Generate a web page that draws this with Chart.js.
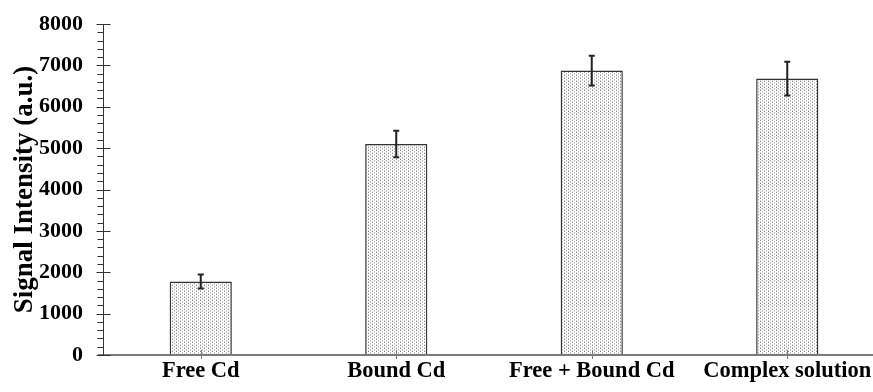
<!DOCTYPE html>
<html lang="en">
<head>
  <meta charset="UTF-8">
  <title>Signal Intensity</title>
  <script src="https://cdn.jsdelivr.net/npm/chart.js"></script>
  <style>
    html, body { margin: 0; padding: 0; background: #fff; overflow: hidden; }
    #wrap { width: 885px; height: 392px; }
  </style>
</head>
<body>
<div id="wrap">
  <canvas id="grafico" width="885" height="392"></canvas>
</div>

<script>
  // valores
  const categorias = ["Free Cd", "Bound Cd", "Free + Bound Cd", "Complex solution"];
  const valores = [1775, 5100, 6875, 6680];
  const erros = [170, 320, 360, 410];
  const yTicks = [0, 1000, 2000, 3000, 4000, 5000, 6000, 7000, 8000];

  const fonte = "'Liberation Serif', 'Times New Roman', serif";

  // textura pontilhada das barras
  const tile = document.createElement("canvas");
  tile.width = 4;
  tile.height = 3;
  const tctx = tile.getContext("2d");
  tctx.fillStyle = "#ffffff";
  tctx.fillRect(0, 0, 4, 3);
  tctx.fillStyle = "#8a8a8a";
  tctx.fillRect(0, 0, 1, 1);
  tctx.fillStyle = "#b4b4b4";
  tctx.fillRect(2, 1, 1, 1);
  tctx.fillStyle = "#d4d4d4";
  tctx.fillRect(0, 2, 1, 1);
  tctx.fillRect(2, 2, 1, 1);

  const canvas = document.getElementById("grafico");
  const ctx = canvas.getContext("2d");
  const textura = ctx.createPattern(tile, "repeat");

  const eixosPlugin = {
    id: "eixos",
    afterDatasetsDraw(chart) {
      const c = chart.ctx;
      const y = chart.scales.y;
      const area = chart.chartArea;
      const meta = chart.getDatasetMeta(0);
      c.save();

      // barras de erro
      c.strokeStyle = "#222";
      c.lineWidth = 2;
      meta.data.forEach((bar, i) => {
        const yTop = y.getPixelForValue(valores[i] + erros[i]);
        const yBot = y.getPixelForValue(valores[i] - erros[i]);
        c.beginPath();
        c.moveTo(bar.x, yTop);
        c.lineTo(bar.x, yBot);
        c.moveTo(bar.x - 3, yTop);
        c.lineTo(bar.x + 3, yTop);
        c.moveTo(bar.x - 3, yBot);
        c.lineTo(bar.x + 3, yBot);
        c.stroke();
      });

      // eixo x
      c.strokeStyle = "#7a7a7a";
      c.lineWidth = 2;
      c.beginPath();
      c.moveTo(area.left - 5, area.bottom);
      c.lineTo(chart.width, area.bottom);
      c.stroke();
      c.lineWidth = 1;
      meta.data.forEach(bar => {
        c.beginPath();
        c.moveTo(Math.round(bar.x) + 0.5, area.bottom - 5);
        c.lineTo(Math.round(bar.x) + 0.5, area.bottom + 4);
        c.stroke();
      });

      // eixo y
      c.strokeStyle = "#333";
      c.lineWidth = 1;
      const ax = Math.round(area.left) + 0.5;
      c.beginPath();
      c.moveTo(ax, area.top);
      c.lineTo(ax, area.bottom);
      c.stroke();
      for (let v = 0; v <= 8000; v += 200) {
        const py = Math.round(y.getPixelForValue(v)) + 0.5;
        c.beginPath();
        if (v % 1000 === 0) {
          c.moveTo(ax - 7, py);
          c.lineTo(ax + 7, py);
        } else {
          c.moveTo(ax - 6, py);
          c.lineTo(ax, py);
        }
        c.stroke();
      }
      c.restore();
    }
  };

  new Chart(ctx, {
    type: "bar",
    data: {
      labels: categorias,
      datasets: [{
        data: valores,
        backgroundColor: textura,
        borderColor: "#333",
        borderWidth: 1.5,
        barPercentage: 0.318,
        categoryPercentage: 1
      }]
    },
    options: {
      responsive: false,
      animation: false,
      layout: { padding: { top: 24, left: 0, right: 0, bottom: 0 } },
      plugins: {
        legend: { display: false },
        tooltip: { enabled: false }
      },
      scales: {
        x: {
          grid: { display: false, drawTicks: false },
          border: { display: false },
          ticks: {
            color: "#000",
            padding: 3,
            maxRotation: 0,
            font: { family: fonte, size: 22.5, weight: "bold" }
          },
          afterFit(scale) {
            scale.height = 37;
            scale.paddingLeft = 0;
            scale.paddingRight = 0;
          }
        },
        y: {
          min: 0,
          max: 8000,
          afterBuildTicks(scale) { scale.ticks = yTicks.map(v => ({ value: v })); },
          grid: { display: false, drawTicks: false },
          border: { display: false },
          ticks: {
            color: "#000",
            padding: 20,
            font: { family: fonte, size: 22, weight: "bold" },
            callback: v => String(v)
          },
          title: {
            display: true,
            text: "Signal Intensity (a.u.)",
            color: "#000",
            padding: { top: 9, bottom: 0 },
            font: { family: fonte, size: 27, weight: "bold" }
          },
          afterFit(scale) {
            scale.width = 103;
            scale.paddingTop = 0;
            scale.paddingBottom = 0;
          }
        }
      }
    },
    plugins: [eixosPlugin]
  });
</script>
</body>
</html>
